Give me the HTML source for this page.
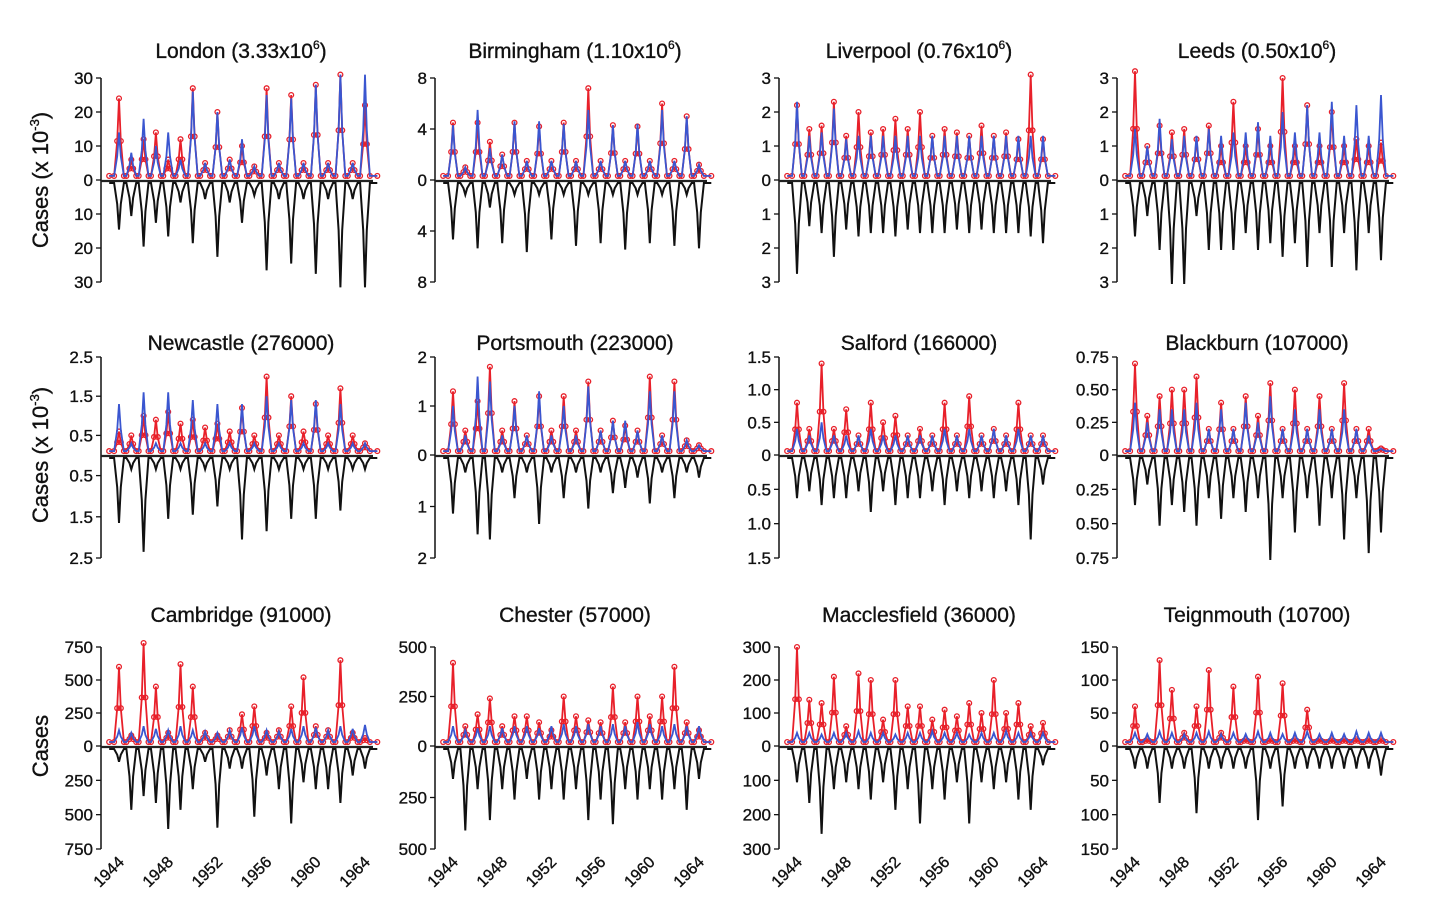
<!DOCTYPE html>
<html><head><meta charset="utf-8">
<style>
html,body{margin:0;padding:0;background:#fff;}
svg{display:block;font-family:"Liberation Sans",Arial,sans-serif;}
svg text{stroke:#111;stroke-width:0.35px;}
</style></head>
<body>
<svg id="chart" width="1431" height="900" viewBox="0 0 1431 900" xmlns="http://www.w3.org/2000/svg"></svg>
<script>
const years = [1944,1945,1946,1947,1948,1949,1950,1951,1952,1953,1954,1955,1956,1957,1958,1959,1960,1961,1962,1963,1964];
const yearTickLabels = ["1944","1948","1952","1956","1960","1964"];
const titles = ["London (3.33x10","Birmingham (1.10x10","Liverpool (0.76x10","Leeds (0.50x10","Newcastle (276000)","Portsmouth (223000)","Salford (166000)","Blackburn (107000)","Cambridge (91000)","Chester (57000)","Macclesfield (36000)","Teignmouth (10700)"];
const titleSup = ["6","6","6","6","","","","","","","",""];
const scaleMax = [30,8,3,3,2.5,2,1.5,0.75,750,500,300,150];
const tickLabels = [
 ["0","10","20","30"],["0","4","8"],["0","1","2","3"],["0","1","2","3"],
 ["0.5","1.5","2.5"],["0","1","2"],["0","0.5","1.0","1.5"],["0","0.25","0.50","0.75"],
 ["0","250","500","750"],["0","250","500"],["0","100","200","300"],["0","50","100","150"]];
const tickValues = [
 [0,10,20,30],[0,4,8],[0,1,2,3],[0,1,2,3],
 [0.5,1.5,2.5],[0,1,2],[0,0.5,1.0,1.5],[0,0.25,0.5,0.75],
 [0,250,500,750],[0,250,500],[0,100,200,300],[0,50,100,150]];

const londonRed=[24,6,12,14,6,12,27,5,20,6,10,4,27,5,25,5,28,5,31,5,22];
const londonBlue=[14,8,18,10,14,6,26,5,20,6,12,4,25,5,24,5,28,5,31,5,31];
const londonBlack=[14,10,19,12,16,6,18,5,22,6,12,4,26,5,24,5,27,5,31,5,31];
const birminghamRed=[4.5,1,4.5,3,2,4.5,1.5,4.2,1.5,4.5,1.5,7.2,1.5,4.3,1.5,4.2,1.5,6,1.5,5,1.2];
const birminghamBlue=[4.3,1,5.5,2.5,2,4.6,1.5,4.6,1.5,4.4,1.5,5.5,1.5,4.3,1.5,4.4,1.5,5.5,1.5,5,1.2];
const birminghamBlack=[4.5,1,5.2,2,4.8,1,5.5,1,4.5,1,5,1,4.8,1,5.3,1,4.8,1,5,1,5.2];
const liverpoolRed=[2.2,1.5,1.6,2.3,1.3,2,1.4,1.5,1.8,1.5,2,1.3,1.5,1.4,1.3,1.6,1.3,1.4,1.2,3.1,1.2];
const liverpoolBlue=[2.3,1.3,1.4,2.1,1.2,1.3,1.3,1.3,1.3,1.3,1.3,1.3,1.3,1.3,1.3,1.3,1.3,1.3,1.3,1.3,1.3];
const liverpoolBlack=[2.7,1.3,1.5,2.2,1.4,1.6,1.5,1.5,1.6,1.4,1.5,1.5,1.5,1.4,1.5,1.4,1.5,1.5,1.5,1.6,1.8];
const leedsRed=[3.2,1,1.6,1.4,1.5,1.2,1.6,1,2.3,1,1.5,1,3,1,2.2,1,2,1,1.2,1,1.1];
const leedsBlue=[1.5,1,1.8,1.2,1.3,1.3,1.5,1.3,1.4,1.4,1.7,1.3,2,1.4,2.2,1.4,2.3,1.3,2.2,1.3,2.5];
const leedsBlack=[1.6,1,2,3,3,1,2,2,2,1.5,2,1.8,2.2,1.8,2.5,1.5,2.5,1.5,2.6,1.5,2.3];
const newcastleRed=[0.6,0.5,1.0,0.9,1.1,0.8,0.9,0.7,0.8,0.6,1.2,0.5,2.0,0.5,1.5,0.6,1.3,0.5,1.7,0.5,0.3];
const newcastleBlue=[1.3,0.3,1.6,0.3,1.6,0.3,1.4,0.3,1.3,0.3,1.3,0.3,1.5,0.3,1.4,0.3,1.4,0.3,1.3,0.3,0.3];
const newcastleBlack=[1.6,0.3,2.3,0.3,1.5,0.3,1.4,0.3,1.2,0.3,2.0,0.3,1.8,0.3,1.5,0.3,1.5,0.3,1.3,0.3,0.3];
const portsmouthRed=[1.3,0.5,1.1,1.8,0.5,1.1,0.4,1.2,0.5,1.2,0.5,1.5,0.5,0.7,0.6,0.5,1.6,0.4,1.5,0.3,0.2];
const portsmouthBlue=[1.0,0.4,1.6,1.5,0.4,1.0,0.4,1.3,0.4,1.0,0.4,1.4,0.5,0.7,0.7,0.5,1.3,0.4,1.3,0.3,0.2];
const portsmouthBlack=[1.1,0.3,1.5,1.6,0.3,0.8,0.3,1.3,0.3,0.8,0.3,1.0,0.3,0.7,0.6,0.4,0.9,0.3,0.8,0.3,0.4];
const salfordRed=[0.8,0.4,1.4,0.4,0.7,0.3,0.8,0.5,0.6,0.3,0.4,0.3,0.8,0.3,0.9,0.3,0.4,0.3,0.8,0.3,0.3];
const salfordBlue=[0.4,0.3,0.5,0.3,0.3,0.3,0.4,0.3,0.3,0.3,0.3,0.3,0.4,0.3,0.4,0.3,0.4,0.3,0.4,0.3,0.3];
const salfordBlack=[0.6,0.5,0.7,0.6,0.6,0.5,0.8,0.5,0.7,0.6,0.6,0.5,0.7,0.5,0.6,0.5,0.6,0.5,0.7,1.2,0.4];
const blackburnRed=[0.7,0.3,0.45,0.5,0.5,0.6,0.2,0.4,0.2,0.45,0.3,0.55,0.2,0.5,0.2,0.45,0.2,0.55,0.2,0.2,0.05];
const blackburnBlue=[0.4,0.25,0.35,0.35,0.35,0.4,0.2,0.35,0.2,0.4,0.25,0.45,0.2,0.35,0.2,0.35,0.2,0.35,0.2,0.15,0.05];
const blackburnBlack=[0.35,0.2,0.5,0.35,0.4,0.5,0.3,0.45,0.3,0.4,0.3,0.75,0.3,0.55,0.3,0.5,0.3,0.6,0.3,0.7,0.55];
const cambridgeRed=[600,80,780,450,100,620,450,100,80,120,240,300,100,120,300,520,150,120,650,100,60];
const cambridgeBlue=[120,100,150,130,120,150,120,110,100,120,140,150,120,110,130,150,140,120,150,130,160];
const cambridgeBlack=[100,450,350,400,590,450,300,100,580,150,150,500,200,300,550,250,300,300,400,200,150];
const chesterRed=[420,100,160,240,100,150,150,120,80,250,150,130,120,300,120,250,150,250,400,120,80];
const chesterBlue=[100,80,90,100,90,100,100,90,100,110,100,110,100,110,100,120,110,100,110,100,100];
const chesterBlack=[150,400,200,350,200,250,150,250,200,250,200,350,250,370,200,250,200,250,200,300,150];
const macclesfieldRed=[300,140,130,210,60,220,200,80,200,120,120,80,110,90,130,100,200,100,130,60,70];
const macclesfieldBlue=[40,40,35,40,40,45,40,40,35,40,40,45,40,40,35,40,40,45,40,40,40];
const macclesfieldBlack=[100,160,250,120,100,120,150,100,180,120,220,120,150,100,220,100,120,100,150,180,50];
const teignmouthRed=[60,10,130,85,20,60,115,20,90,10,105,10,95,10,55,10,10,10,10,10,10];
const teignmouthBlue=[20,18,22,20,18,20,22,18,20,18,22,20,18,20,22,18,20,18,22,20,20];
const teignmouthBlack=[30,30,80,30,30,95,30,30,30,30,105,30,85,30,30,30,30,30,30,30,40];

const redSeries=[londonRed,birminghamRed,liverpoolRed,leedsRed,newcastleRed,portsmouthRed,salfordRed,blackburnRed,cambridgeRed,chesterRed,macclesfieldRed,teignmouthRed];
const blueSeries=[londonBlue,birminghamBlue,liverpoolBlue,leedsBlue,newcastleBlue,portsmouthBlue,salfordBlue,blackburnBlue,cambridgeBlue,chesterBlue,macclesfieldBlue,teignmouthBlue];
const blackSeries=[londonBlack,birminghamBlack,liverpoolBlack,leedsBlack,newcastleBlack,portsmouthBlack,salfordBlack,blackburnBlack,cambridgeBlack,chesterBlack,macclesfieldBlack,teignmouthBlack];

const NS="http://www.w3.org/2000/svg";
const svg=document.getElementById('chart');
const colLeft=[101,435,779,1117];
const rowTop=[78,357,647], rowZero=[180,455,746], rowBot=[282,558,849], titleY=[58,350,622];
function mk(tag,attrs,parent){const e=document.createElementNS(NS,tag);for(const k in attrs)e.setAttribute(k,attrs[k]);(parent||svg).appendChild(e);return e;}

for(let p=0;p<12;p++){
  const r=Math.floor(p/4), c=p%4, L=colLeft[c];
  const g=mk('g',{});
  
  
  const M=scaleMax[p];
  const xS=y=>L+18+(y-1944)*12.3;
  const yUp=v=>rowZero[r]-(v/M)*(rowZero[r]-rowTop[r]);
  const yDn=v=>rowZero[r]+2+(v/M)*(rowBot[r]-rowZero[r]);
  const t=mk('text',{x:L+140,y:titleY[r],'text-anchor':'middle','font-size':21,fill:'#111'},g);
  
  
  t.textContent=titles[p];
  if(titleSup[p]){const s=mk('tspan',{'font-size':12,dy:-9},t);s.textContent=titleSup[p];const s2=mk('tspan',{'font-size':21,dy:9},t);s2.textContent=')';}
  const ax=mk('line',{x1:L,x2:L,y1:rowTop[r],y2:rowBot[r],stroke:'#111','stroke-width':1.5},g);
  
  
  tickValues[p].forEach((v,i)=>{
    const ys=v===0?[rowZero[r]]:[yUp(v),yDn(v)-2];
    ys.forEach(yy=>{
      mk('line',{x1:L-5,x2:L,y1:yy,y2:yy,stroke:'#111','stroke-width':1.3},g);
      const tl=mk('text',{x:L-8,y:yy+6,'text-anchor':'end','font-size':17,fill:'#111'},g);
      
      
      tl.textContent=tickLabels[p][i];
    });
  });
  function pts(vals,base,f){
    const out=[[xS(1943.2),f(base)]];
    vals.forEach((v,i)=>{const y=years[i];
      out.push([xS(y-0.4),f(base)],[xS(y-0.15),f(base+(v-base)*0.45)],[xS(y),f(v)],[xS(y+0.15),f(base+(v-base)*0.45)],[xS(y+0.4),f(base)]);});
    out.push([xS(1965),f(base)]);
    return out;
  }
  const blk=pts(blackSeries[p],M*0.01,yDn);
  const pb=mk('path',{d:'M'+blk.map(q=>q[0].toFixed(1)+','+q[1].toFixed(1)).join('L'),fill:'none',stroke:'#111','stroke-width':2},g);
  
  
  const red=pts(redSeries[p],M*0.04,yUp);
  const pr=mk('path',{d:'M'+red.map(q=>q[0].toFixed(1)+','+q[1].toFixed(1)).join('L'),fill:'none',stroke:'#e8202a','stroke-width':1.8},g);
  
  
  red.forEach(q=>{const ci=mk('circle',{cx:q[0],cy:q[1],r:2.4,fill:'none',stroke:'#e8202a','stroke-width':1.3},g);
    
    });
  const blu=pts(blueSeries[p],M*0.04,yUp);
  const pbl=mk('path',{d:'M'+blu.map(q=>q[0].toFixed(1)+','+q[1].toFixed(1)).join('L'),fill:'none',stroke:'#3a56d0','stroke-width':1.8},g);
  
  
  const z=mk('line',{x1:L,x2:L+272,y1:rowZero[r]+1,y2:rowZero[r]+1,stroke:'#222','stroke-width':2.2},g);
  
  
  if(r===2){
    yearTickLabels.forEach(lbl=>{
      const xx=xS(+lbl);
      const tx=mk('text',{x:xx+6,y:rowBot[r]+14,'text-anchor':'end','font-size':16,fill:'#111',transform:`rotate(-45 ${xx+6} ${rowBot[r]+14})`},g);
      
      
      tx.textContent=lbl;
    });
  }
}
[[180,'Cases (x 10','-3',')'],[455,'Cases (x 10','-3',')'],[746,'Cases','','']].forEach(a=>{
  const t=mk('text',{x:48,y:a[0],'text-anchor':'middle','font-size':22,fill:'#111',transform:`rotate(-90 48 ${a[0]})`});
  
  
  t.textContent=a[1];
  if(a[2]){const s=mk('tspan',{'font-size':13,dy:-9},t);s.textContent=a[2];const s2=mk('tspan',{'font-size':22,dy:9},t);s2.textContent=a[3];}
});
</script>
</body></html>
